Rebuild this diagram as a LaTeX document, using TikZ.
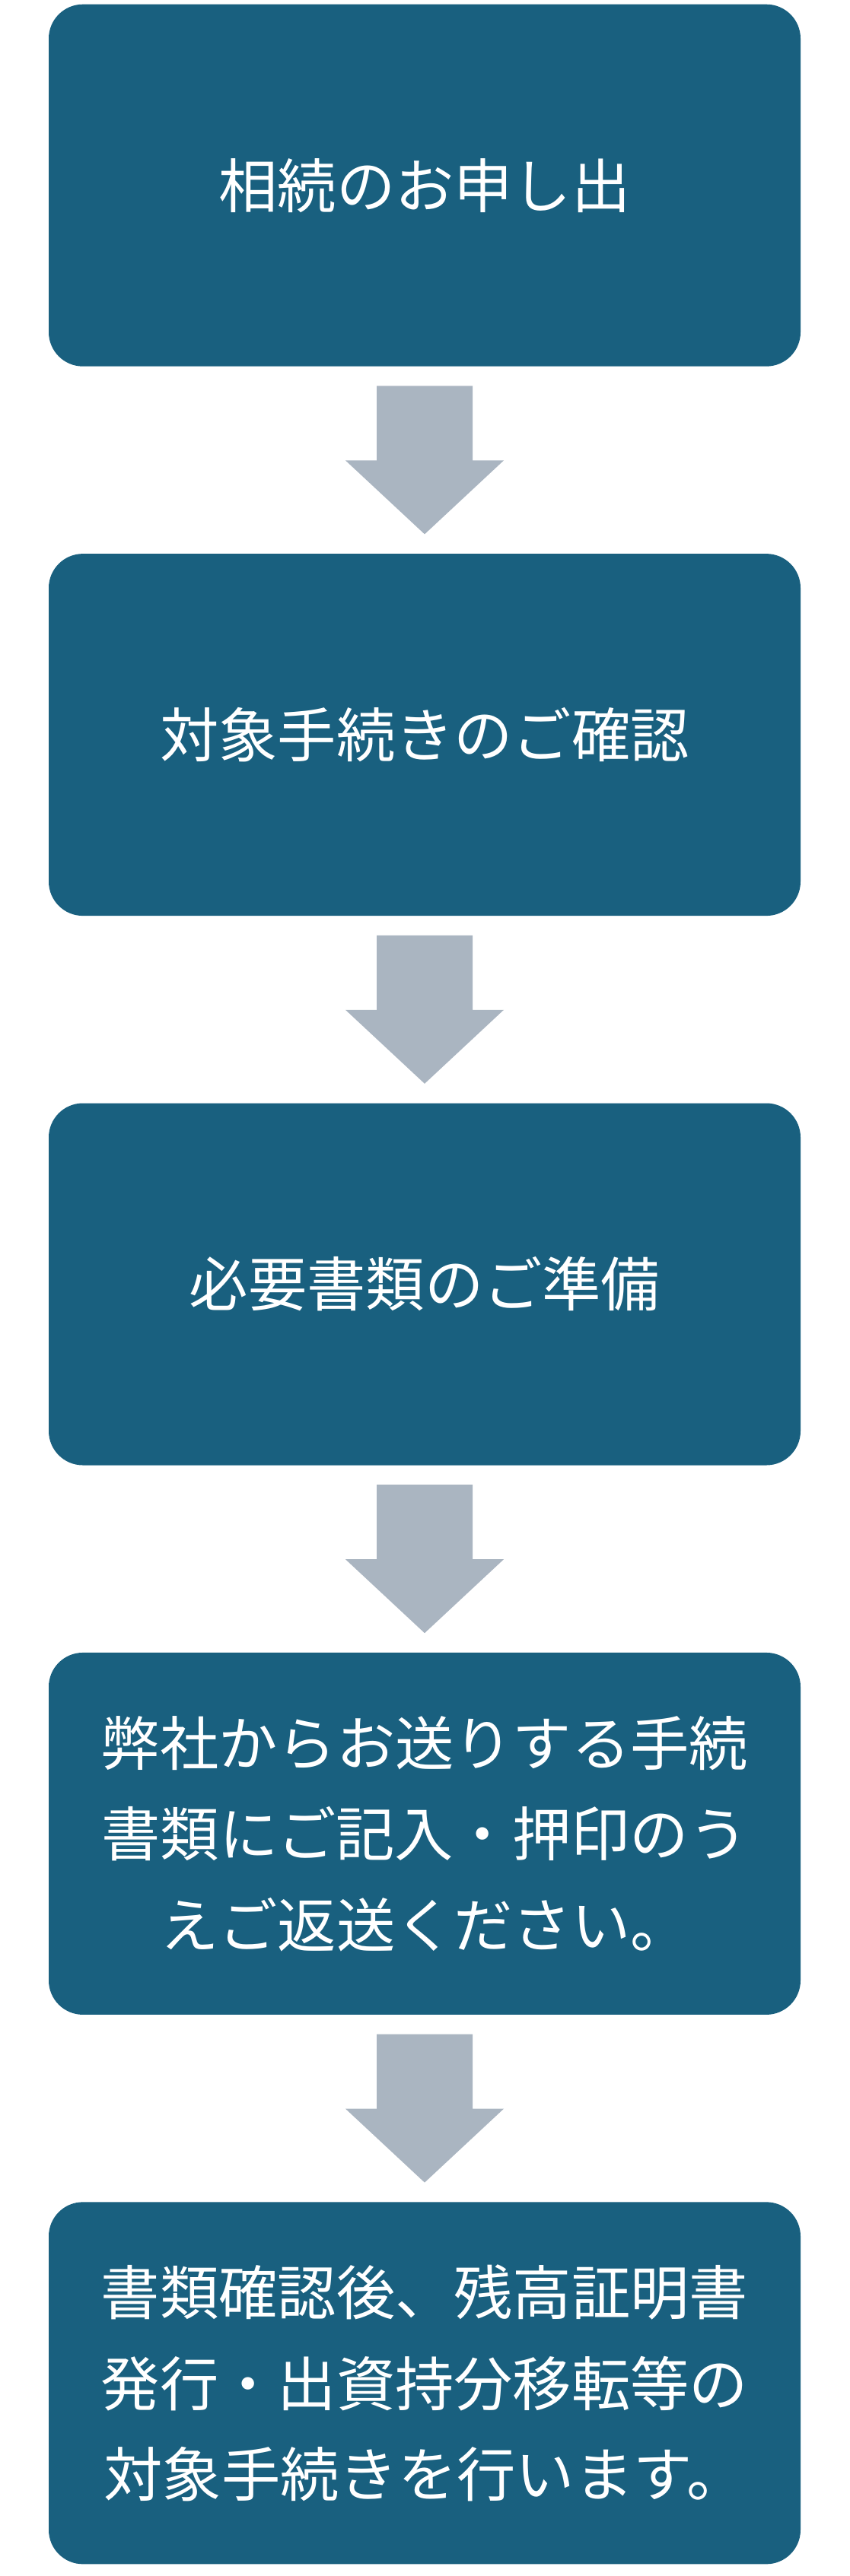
\documentclass[tikz,border=0pt]{standalone}
\usepackage{fontspec}
\setmainfont{Noto Sans CJK JP}
\usetikzlibrary{positioning,calc}
\definecolor{stepblue}{HTML}{19607F}
\definecolor{arrowgray}{HTML}{AAB5C1}
\tikzset{
  flowbox/.style={rectangle, rounded corners=0.45cm, fill=stepblue, text=white,
    minimum width=9.88cm, minimum height=4.76cm, text width=9.4cm, align=center,
    font=\fontsize{22}{34}\selectfont},
}
% fat gray arrow between two steps
\newcommand{\fatarrow}[2]{%
  \fill[arrowgray] ($(#1.south)+(-0.63,-0.25)$) -- ($(#1.south)+(0.63,-0.25)$)
    -- ($(#1.south)+(0.63,-1.23)$) -- ($(#1.south)+(1.04,-1.23)$)
    -- ($(#2.north)+(0,0.25)$) -- ($(#1.south)+(-1.04,-1.23)$)
    -- ($(#1.south)+(-0.63,-1.23)$) -- cycle;}
\begin{document}
\begin{tikzpicture}[node distance=2.45cm]
  \useasboundingbox (0,0) rectangle (11.16,-33.87);

  % the five steps
  \node (apply) [flowbox, anchor=north] at (5.58,-0.05) {相続のお申し出};
  \node (check) [flowbox, below=of apply] {対象手続きのご確認};
  \node (docs) [flowbox, below=of check] {必要書類のご準備};
  \node (return) [flowbox, below=of docs] {弊社からお送りする手続\\書類にご記入・押印のう\\えご返送ください。};
  \node (finish) [flowbox, below=of return] {書類確認後、残高証明書\\発行・出資持分移転等の\\対象手続きを行います。};

  % arrows
  \fatarrow{apply}{check}
  \fatarrow{check}{docs}
  \fatarrow{docs}{return}
  \fatarrow{return}{finish}
\end{tikzpicture}
\end{document}
